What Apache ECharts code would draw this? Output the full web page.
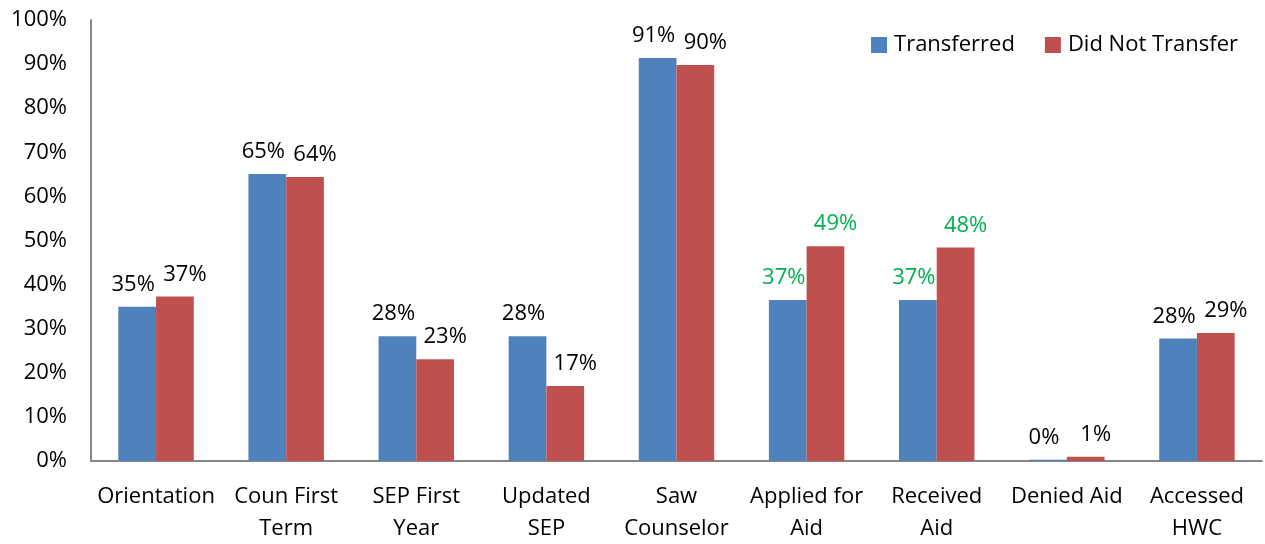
<!DOCTYPE html>
<html>
<head>
<meta charset="utf-8">
<script src="https://cdn.jsdelivr.net/npm/echarts@6/dist/echarts.min.js"></script>
<style>
  html, body { margin: 0; padding: 0; background: #fff; }
  #main { width: 1265px; height: 544px; }
</style>
</head>
<body>
<div id="main"></div>
<script>
// categories (line breaks as in the original axis)
var categories = ['Orientation', 'Coun First\nTerm', 'SEP First\nYear', 'Updated\nSEP', 'Saw\nCounselor',
                  'Applied for\nAid', 'Received\nAid', 'Denied Aid', 'Accessed\nHWC'];
// percentages
var transferred   = [35.0, 65.1, 28.3, 28.3, 91.4, 36.5, 36.5, 0.3, 27.8];
var didNotTransfer = [37.3, 64.4, 23.1, 17.0, 89.8, 48.7, 48.4, 0.95, 29.0];
// categories whose labels are shown in green
var greenCats = ['Applied for\nAid', 'Received\nAid'];
var yTicks = [0, 10, 20, 30, 40, 50, 60, 70, 80, 90, 100];

var FONT = 'Open Sans';
var FS = 22;

function buildData(values) {
    return values.map(function (v, i) {
        var item = { value: v };
        if (greenCats.indexOf(categories[i]) >= 0) {
            item.label = { color: '#00B050' };
        }
        return item;
    });
}

var chart = echarts.init(document.getElementById('main'));

var option = {
    animation: false,
    textStyle: { fontFamily: FONT },
    legend: {
        data: ['Transferred', 'Did Not Transfer'],
        right: 22,
        top: 29,
        itemWidth: 16,
        itemHeight: 16,
        itemGap: 30,
        icon: 'rect',
        textStyle: { fontSize: FS, color: '#000', fontFamily: FONT, padding: [0, 0, 0, 2] }
    },
    grid: {
        left: 91,
        right: 3,
        top: 20,
        bottom: 83,
        outerBoundsMode: 'none'
    },
    xAxis: {
        type: 'category',
        data: categories,
        axisLine: { lineStyle: { color: '#868686', width: 2 } },
        axisTick: { show: false },
        axisLabel: {
            color: '#000',
            fontSize: FS,
            lineHeight: 32,
            margin: 20,
            interval: 0
        }
    },
    yAxis: {
        type: 'value',
        min: yTicks[0],
        max: yTicks[yTicks.length - 1],
        interval: 10,
        axisLine: { show: true, lineStyle: { color: '#868686', width: 2 } },
        axisTick: { show: false },
        splitLine: { show: false },
        axisLabel: {
            color: '#000',
            fontSize: FS,
            margin: 24,
            formatter: '{value}%'
        }
    },
    series: [
        {
            name: 'Transferred',
            type: 'bar',
            data: buildData(transferred),
            barGap: '0%',
            barCategoryGap: '42%',
            itemStyle: { color: '#4F81BD' },
            label: {
                show: true,
                position: 'top',
                distance: 11,
                offset: [-4, 0],
                fontSize: FS,
                color: '#000',
                formatter: function (p) { return Math.round(p.value) + '%'; }
            }
        },
        {
            name: 'Did Not Transfer',
            type: 'bar',
            data: buildData(didNotTransfer),
            itemStyle: { color: '#C0504D' },
            label: {
                show: true,
                position: 'top',
                distance: 11,
                offset: [10, 0],
                fontSize: FS,
                color: '#000',
                formatter: function (p) { return Math.round(p.value) + '%'; }
            }
        }
    ]
};

chart.setOption(option);
</script>
</body>
</html>
